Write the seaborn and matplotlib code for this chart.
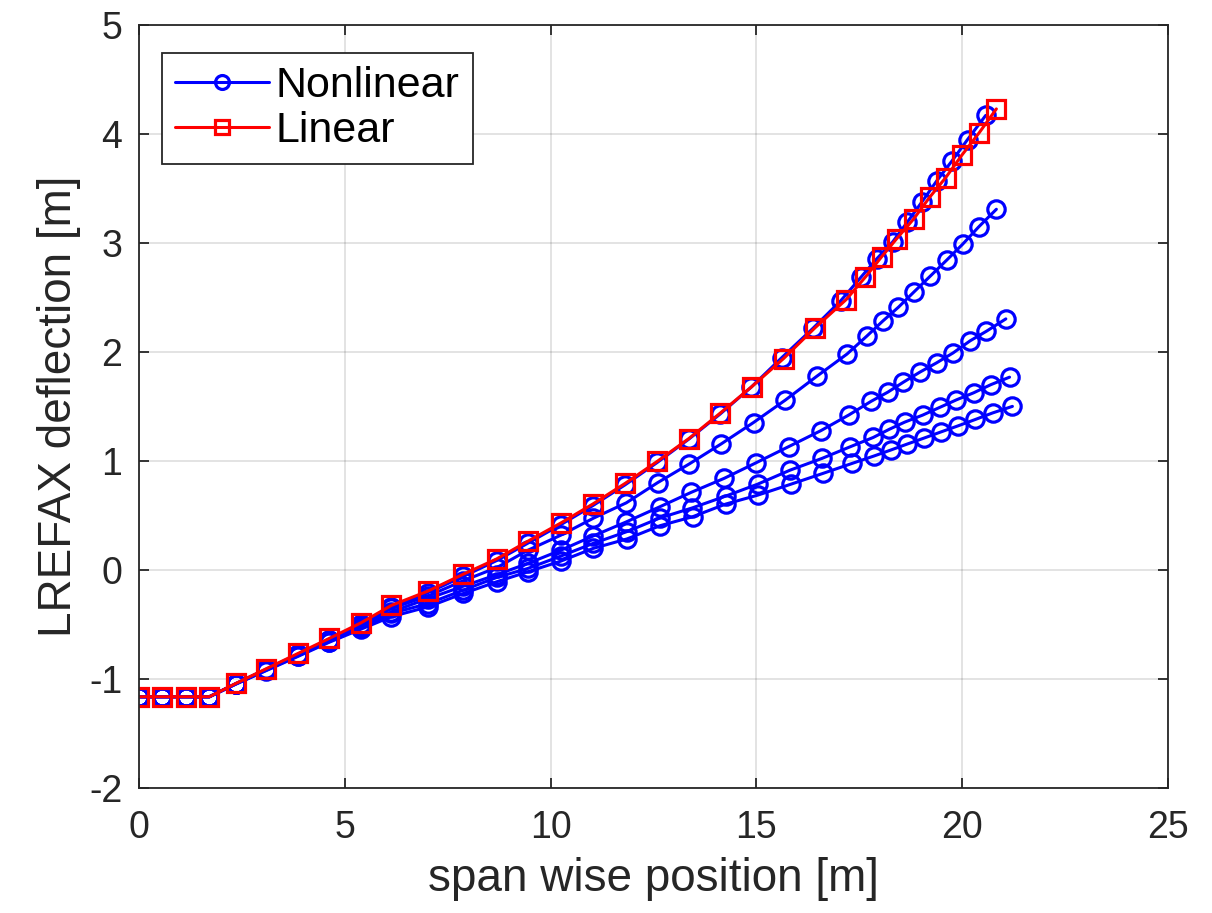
import numpy as np
import pandas as pd
import seaborn as sns
import matplotlib.pyplot as plt

# span wise stations [m] and LREFAX deflection [m]
x_lin = [0, 0.57, 1.15, 1.71, 2.35, 3.09, 3.86, 4.62, 5.39, 6.13, 7.02, 7.88, 8.69, 9.45, 10.25, 11.03,
         11.81, 12.59, 13.36, 14.12, 14.89, 15.66, 16.42, 17.18, 17.65, 18.04, 18.41, 18.82, 19.21,
         19.60, 20.00, 20.41, 20.83]
y_lin = [-1.165, -1.165, -1.165, -1.165, -1.043, -0.908, -0.768, -0.630, -0.487, -0.327, -0.195, -0.040,
         0.100, 0.263, 0.430, 0.605, 0.793, 0.995, 1.205, 1.438, 1.682, 1.939, 2.220, 2.480, 2.688,
         2.872, 3.040, 3.220, 3.420, 3.600, 3.810, 4.010, 4.230]

x_root = [0, 0.57, 1.15, 1.71, 2.35, 3.09, 3.86, 4.62, 5.39, 6.13, 7.02, 7.88, 8.69, 9.45, 10.25, 11.03]

x_nl1 = x_root + [11.81, 12.59, 13.36, 14.12, 14.87, 15.61, 16.37, 17.05, 17.55, 17.93, 18.31, 18.67,
                  19.02, 19.38, 19.75, 20.13, 20.57]
y_nl1 = [-1.165, -1.165, -1.165, -1.165, -1.045, -0.912, -0.775, -0.640, -0.500, -0.345, -0.210, -0.060,
         0.085, 0.245, 0.415, 0.590, 0.780, 0.985, 1.200, 1.430, 1.675, 1.945, 2.215, 2.470, 2.690,
         2.857, 3.009, 3.193, 3.376, 3.569, 3.752, 3.949, 4.170]

x_nl2 = x_root + [11.84, 12.60, 13.37, 14.15, 14.93, 15.70, 16.47, 17.20, 17.68, 18.07, 18.45, 18.83,
                  19.22, 19.62, 20.01, 20.40, 20.83]
y_nl2 = [-1.165, -1.165, -1.165, -1.165, -1.045, -0.915, -0.780, -0.645, -0.510, -0.355, -0.240, -0.100,
         0.020, 0.180, 0.318, 0.472, 0.615, 0.800, 0.972, 1.157, 1.352, 1.557, 1.777, 1.980, 2.144,
         2.283, 2.410, 2.551, 2.694, 2.841, 2.988, 3.147, 3.309]

x_nl3 = x_root + [11.84, 12.65, 13.41, 14.22, 14.99, 15.78, 16.57, 17.25, 17.78, 18.19, 18.57, 18.97,
                  19.38, 19.78, 20.19, 20.59, 21.06]
y_nl3 = [-1.165, -1.165, -1.165, -1.165, -1.047, -0.918, -0.785, -0.652, -0.525, -0.385, -0.265, -0.150,
         -0.045, 0.059, 0.180, 0.310, 0.440, 0.578, 0.710, 0.840, 0.982, 1.130, 1.278, 1.422, 1.545,
         1.630, 1.722, 1.814, 1.900, 1.991, 2.101, 2.190, 2.303]

x_nl4 = x_root + [11.85, 12.65, 13.44, 14.25, 15.03, 15.82, 16.59, 17.27, 17.84, 18.23, 18.60, 19.04,
                  19.45, 19.86, 20.28, 20.70, 21.15]
y_nl4 = [-1.165, -1.165, -1.165, -1.165, -1.048, -0.922, -0.790, -0.660, -0.535, -0.400, -0.310, -0.186,
         -0.070, 0.013, 0.126, 0.242, 0.350, 0.475, 0.568, 0.676, 0.786, 0.915, 1.022, 1.128, 1.215,
         1.290, 1.355, 1.420, 1.490, 1.560, 1.625, 1.700, 1.768]

x_nl5 = x_root + [11.86, 12.66, 13.45, 14.25, 15.03, 15.84, 16.61, 17.32, 17.86, 18.27, 18.67, 19.08,
                  19.48, 19.89, 20.32, 20.74, 21.22]
y_nl5 = [-1.165, -1.165, -1.165, -1.165, -1.050, -0.925, -0.795, -0.665, -0.545, -0.430, -0.340, -0.217,
         -0.110, -0.018, 0.080, 0.196, 0.284, 0.405, 0.487, 0.603, 0.685, 0.786, 0.884, 0.976, 1.045,
         1.100, 1.155, 1.210, 1.265, 1.320, 1.380, 1.440, 1.500]

nonlinear = [(x_nl1, y_nl1), (x_nl2, y_nl2), (x_nl3, y_nl3), (x_nl4, y_nl4), (x_nl5, y_nl5)]

sns.set_theme(style="ticks")
plt.rcParams['font.family'] = ['Liberation Sans', 'DejaVu Sans']
plt.rcParams.update({
    'axes.unicode_minus': False,
    'axes.edgecolor': '#262626',
    'axes.linewidth': 1.3,
    'xtick.direction': 'in', 'ytick.direction': 'in',
    'xtick.top': True, 'ytick.right': True,
    'xtick.major.size': 7, 'ytick.major.size': 7,
    'xtick.color': '#262626', 'ytick.color': '#262626',
})

fig = plt.figure(figsize=(12.12, 9.13), dpi=100)
ax = fig.add_axes([0.1147, 0.1372, 0.849, 0.8354])

line_kw = dict(linewidth=2.2, linestyle='-', markersize=12.5, markeredgewidth=2.3, markerfacecolor='none')

for i, (xs, ys) in enumerate(nonlinear):
    df = pd.DataFrame({'x': xs, 'y': ys})
    sns.lineplot(data=df, x='x', y='y', sort=False, estimator=None, color='#0000ff', marker='o',
                 markeredgecolor='#0000ff', label='Nonlinear' if i == 0 else None, ax=ax, **line_kw)

df_lin = pd.DataFrame({'x': x_lin, 'y': y_lin})
sns.lineplot(data=df_lin, x='x', y='y', sort=False, estimator=None, color='#ff0000', marker='s',
             markeredgecolor='#ff0000', label='Linear', ax=ax, **line_kw)

ax.set_xlim(0, 25)
ax.set_ylim(-2, 5)
ax.set_xticks(np.arange(0, 26, 5))
ax.set_yticks(np.arange(-2, 6, 1))
ax.grid(True, color='#000000', alpha=0.12, linewidth=1.3)
ax.tick_params(labelsize=27, width=1.3)
ax.tick_params(axis='x', pad=16)
ax.tick_params(axis='y', pad=12)
ax.set_xlabel('span wise position [m]', fontsize=33, color='#262626', labelpad=8)
ax.set_ylabel('LREFAX deflection [m]', fontsize=33, color='#262626', labelpad=6)
for s in ax.spines.values():
    s.set_visible(True)

leg = ax.legend(loc='upper left', bbox_to_anchor=(0.022, 0.963), borderaxespad=0, fontsize=31,
                frameon=True, fancybox=False, framealpha=1, edgecolor='#262626',
                handlelength=2.2, handletextpad=0.15, borderpad=0.3, labelspacing=0.12,
                markerscale=0.8)
leg.get_frame().set_linewidth(1.3)
for t in leg.get_texts():
    t.set_color('black')

fig.savefig('out.png', dpi=100)
